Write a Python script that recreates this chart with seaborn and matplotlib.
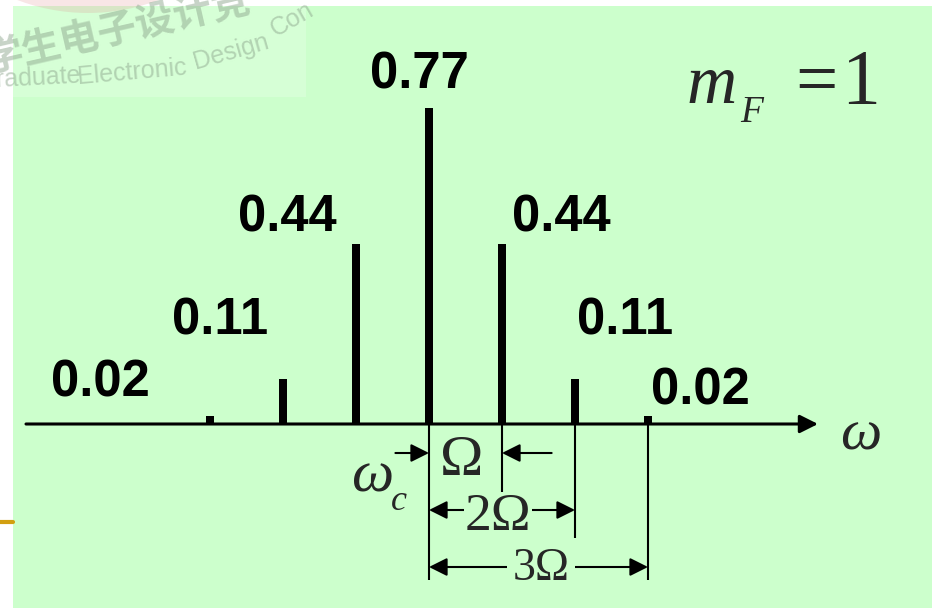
import pandas as pd
import seaborn as sns
import matplotlib.pyplot as plt
from matplotlib.patches import Rectangle, Circle
from matplotlib.lines import Line2D
from matplotlib.transforms import Affine2D

# FM spectrum for m_F = 1: carrier and side lines at n * Omega
harmonic = [-3, -2, -1, 0, 1, 2, 3]
amplitude = [0.02, 0.11, 0.44, 0.77, 0.44, 0.11, 0.02]
amp_labels = ["0.02", "0.11", "0.44", "0.77", "0.44", "0.11", "0.02"]

W, H = 932, 608
GREEN = "#CCFFCC"
SANS = "Liberation Sans"
SERIF = "Liberation Serif"

sns.set_theme(style="white")
plt.rcParams["font.family"] = [SANS, "Noto Sans CJK SC", "DejaVu Sans"]

fig = plt.figure(figsize=(W / 100, H / 100), dpi=100, facecolor="white")
# pixel coordinates measured from the top-left corner of the slide
PX = Affine2D().scale(1 / W, -1 / H).translate(0, 1) + fig.transFigure

ax = fig.add_axes([13 / W, 0, (W - 13) / W, (H - 6) / H])
ax.set_facecolor(GREEN)

df = pd.DataFrame({"n": harmonic, "amp": amplitude})
sns.barplot(data=df, x="n", y="amp", native_scale=True, orient="x", width=0.1,
            color="black", saturation=1, errorbar=None, linewidth=0, ax=ax, zorder=3)

# one Omega = 73 px, unit amplitude = 410 px, carrier at x=429 px, baseline at y=424 px
X0, Y0, SX, SY = 429, 424, 73, 410
ax.set_xlim((13 - X0) / SX, (W - X0) / SX)
ax.set_ylim(-(H - Y0) / SY, (Y0 - 6) / SY)
ax.set(xticks=[], yticks=[], xlabel="", ylabel="")
for s in ax.spines.values():
    s.set_visible(False)


def xd(p):
    return (p - X0) / SX


def yd(p):
    return (Y0 - p) / SY


# frequency axis with arrow
ax.annotate("", xy=(xd(818), 0), xytext=(xd(26), 0),
            arrowprops=dict(arrowstyle="-|>,head_length=1.1,head_width=0.55",
                            mutation_scale=10, lw=2.2, color="black",
                            shrinkA=0, shrinkB=0), zorder=4)

# amplitude labels next to each spectral line
label_offsets = [(-60, 19, "right"), (-15, 44, "right"), (-19, 12, "right"),
                 (-9.5, 20, "center"), (10, 12, "left"), (2, 44, "left"),
                 (3, 11, "left")]
for n, a, s, (dx, dy, ha) in zip(harmonic, amplitude, amp_labels, label_offsets):
    ax.annotate(s, xy=(n, a), xytext=(dx, dy), textcoords="offset pixels",
                ha=ha, va="baseline", fontsize=36.5, fontweight="bold",
                family=SANS, color="black", zorder=5)

# dimension lines below the axis
ax.vlines([0, 1, 2, 3], 0, [yd(580), yd(497), yd(538), yd(580)],
          colors="black", lw=1.5, zorder=2)


def dim_arrow(x1, x2, y, style):
    ax.annotate("", xy=(x2, y), xytext=(x1, y),
                arrowprops=dict(arrowstyle=style + ",head_length=1.1,head_width=0.55",
                                mutation_scale=10, lw=1.5, color="black",
                                shrinkA=0, shrinkB=0), zorder=2)


dim_arrow(-0.46, 0, yd(453), "-|>")
dim_arrow(1.68, 1, yd(453), "-|>")
dim_arrow(0, 2, yd(510), "<|-|>")
dim_arrow(0, 3, yd(567), "<|-|>")

ax.text(0.945, yd(530), "2Ω", ha="center", va="baseline", fontsize=38.5,
        family=SERIF, zorder=5,
        bbox=dict(facecolor=GREEN, edgecolor="none", pad=0.5))
ax.text(xd(541), yd(580), "3Ω", ha="center", va="baseline", fontsize=33,
        family=SERIF, zorder=5,
        bbox=dict(facecolor=GREEN, edgecolor="none", pad=4))

# free symbols
fig.text(462, 475, "Ω", transform=PX, ha="center", va="baseline",
         fontsize=42, family=SERIF)
fig.text(861, 449, "ω", transform=PX, ha="center", va="baseline",
         fontsize=42, family=SERIF, style="italic")
fig.text(372, 492, "ω", transform=PX, ha="center", va="baseline",
         fontsize=43, family=SERIF, style="italic")
fig.text(399, 510, "c", transform=PX, ha="center", va="baseline",
         fontsize=26, family=SERIF, style="italic")
fig.text(712, 103, "m", transform=PX, ha="center", va="baseline",
         fontsize=50, family=SERIF, style="italic")
fig.text(752, 122, "F", transform=PX, ha="center", va="baseline",
         fontsize=27, family=SERIF, style="italic")
fig.text(816, 103, "=", transform=PX, ha="center", va="baseline",
         fontsize=54, family=SERIF)
fig.text(861, 103, "1", transform=PX, ha="center", va="baseline",
         fontsize=56, family=SERIF)

# contest logo watermark in the top-left corner
fig.add_artist(Rectangle((13, 6), 293, 91, transform=PX, facecolor="#D6FFD6",
                         edgecolor="none", zorder=1))
fig.add_artist(Circle((88, -186), 199, transform=PX, facecolor="#E09090",
                      edgecolor="none", alpha=0.22, zorder=1))
fig.text(-12, 72, "学生电子设计竞", transform=PX, ha="left", va="baseline",
         rotation=13, rotation_mode="anchor", fontsize=28, fontweight="bold",
         family=["Noto Sans CJK SC", "DejaVu Sans"], color="#8FA88F",
         alpha=0.5, zorder=2)
for word, x, y, rot in [("Graduate", -22, 88, 3), ("Electronic", 78, 84, 5),
                        ("Design", 196, 69, 16), ("Con", 276, 37, 30)]:
    fig.text(x, y, word, transform=PX, ha="left", va="baseline",
             rotation=rot, rotation_mode="anchor", fontsize=18, family=SANS,
             color="#8FA88F", alpha=0.5, zorder=2)

# slide accent line on the left margin
fig.add_artist(Line2D([0, 13], [522, 522], transform=PX, color="#D29F10", lw=3))

fig.savefig("out.png", dpi=100, facecolor="white")
